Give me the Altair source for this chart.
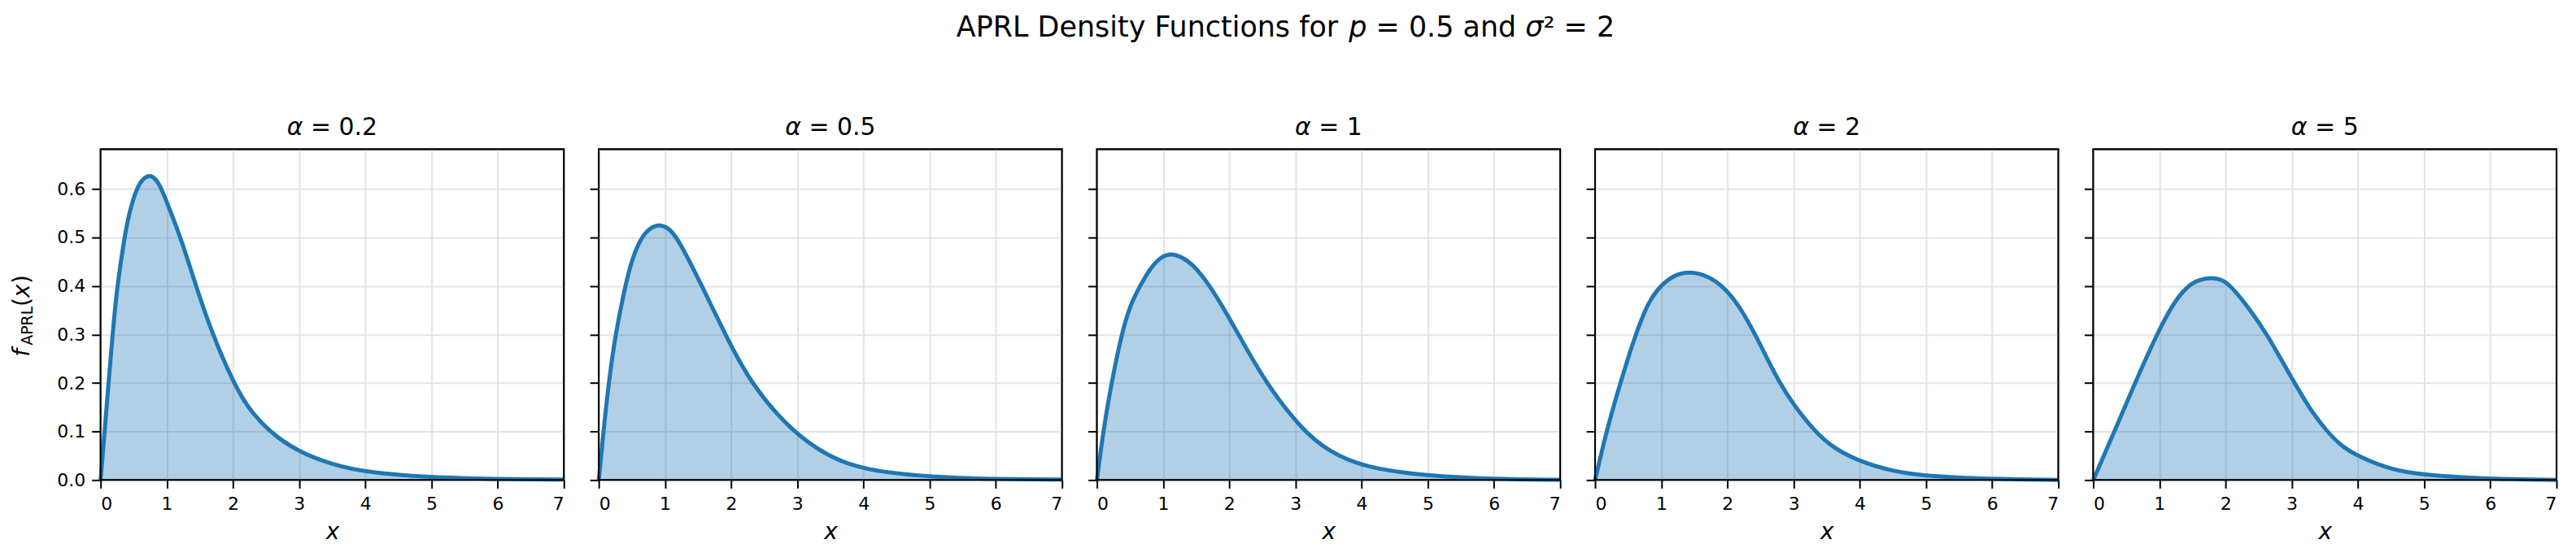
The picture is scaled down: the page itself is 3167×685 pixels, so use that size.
import altair as alt
import pandas as pd

# ---- data ----
alpha_values = ["0.2", "0.5", "1", "2", "5"]

x_a02 = [0, 0.06, 0.12, 0.18, 0.25, 0.36, 0.43, 0.54, 0.63, 0.74, 0.84, 0.92, 1.0, 1.21, 1.44, 1.69, 2.01, 2.22, 2.54, 3.0, 3.5, 4.0, 5.0, 6.0, 7.0]
y_a02 = [0, 0.10, 0.20, 0.30, 0.40, 0.50, 0.55, 0.60, 0.62, 0.630, 0.62, 0.60, 0.573, 0.50, 0.40, 0.30, 0.20, 0.15, 0.10, 0.057, 0.032, 0.016, 0.005, 0.002, 0.001]

x_a05 = [0, 0.07, 0.15, 0.25, 0.40, 0.50, 0.64, 0.78, 0.91, 1.05, 1.19, 1.56, 1.91, 2.29, 2.91, 3.5, 4.0, 5.0, 6.0, 7.0]
y_a05 = [0, 0.10, 0.20, 0.30, 0.40, 0.455, 0.50, 0.52, 0.527, 0.52, 0.50, 0.40, 0.30, 0.20, 0.10, 0.046, 0.021, 0.006, 0.002, 0.001]

x_a1 = [0, 0.10, 0.22, 0.37, 0.50, 0.65, 0.82, 0.98, 1.12, 1.28, 1.45, 1.71, 1.93, 2.14, 2.55, 3.12, 3.5, 4.0, 5.0, 6.0, 7.0]
y_a1 = [0, 0.105, 0.20, 0.30, 0.36, 0.40, 0.44, 0.461, 0.467, 0.46, 0.445, 0.40, 0.35, 0.30, 0.20, 0.10, 0.060, 0.027, 0.008, 0.002, 0.0005]

x_a2 = [0, 0.17, 0.38, 0.61, 0.80, 0.98, 1.20, 1.42, 1.70, 1.98, 2.20, 2.42, 2.60, 2.79, 3.0, 3.32, 3.6, 4.0, 4.5, 5.0, 6.0, 7.0]
y_a2 = [0, 0.10, 0.20, 0.30, 0.366, 0.40, 0.423, 0.430, 0.422, 0.394, 0.354, 0.30, 0.25, 0.20, 0.155, 0.10, 0.066, 0.038, 0.018, 0.008, 0.002, 0.0003]

x_a5 = [0, 0.32, 0.63, 0.96, 1.20, 1.42, 1.60, 1.79, 1.95, 2.08, 2.35, 2.63, 3.04, 3.27, 3.53, 3.75, 4.0, 4.5, 5.0, 6.0, 7.0]
y_a5 = [0, 0.10, 0.20, 0.30, 0.363, 0.40, 0.413, 0.418, 0.413, 0.40, 0.355, 0.30, 0.20, 0.147, 0.10, 0.07, 0.049, 0.021, 0.010, 0.002, 0.0003]

series_x = [x_a02, x_a05, x_a1, x_a2, x_a5]
series_y = [y_a02, y_a05, y_a1, y_a2, y_a5]

x_ticks = [0, 1, 2, 3, 4, 5, 6, 7]
y_ticks = [0.0, 0.1, 0.2, 0.3, 0.4, 0.5, 0.6]

# text pieces (italic pieces are the math symbols)
title_parts = ["APRL Density Functions for ", "p", " = 0.5 and ", "σ", "² = 2"]
title_italic = [False, True, False, True, False]
ylabel_parts = ["f", "APRL", "(", "x", ")"]
x_title = "x"

# ---- layout / style ----
W, H = 571, 408
SPACING = 43
YMAX = 0.682
BLUE = "#1f77b4"
FONT = "DejaVu Sans"
FIG_CENTER_FROM_P3 = 232.5  # figure centre measured from the left edge of panel 3

# DejaVu Sans advance widths (em); oblique face shares the same advances
ADV = {"A": .684, "P": .603, "R": .695, "L": .557, " ": .318, "D": .770, "e": .615,
       "n": .634, "s": .521, "i": .278, "t": .392, "y": .592, "F": .575, "u": .634,
       "c": .550, "o": .612, "f": .352, "r": .411, "p": .635, "=": .838, "0": .636,
       ".": .318, "1": .636, "2": .636, "5": .636, "a": .613, "d": .635, "σ": .635,
       "²": .401, "α": .659}


def tw(s, size):
    return sum(ADV.get(ch, .6) for ch in s) * size


def text_mark(txt, x, y, size, style="normal", angle=0, align="left", baseline="alphabetic"):
    return alt.Chart(pd.DataFrame({"t": [txt]})).mark_text(
        font=FONT, fontSize=size, fontStyle=style, angle=angle, align=align,
        baseline=baseline, color="black"
    ).encode(text="t:N", x=alt.value(x), y=alt.value(y))


def rich_line(parts, italics, cx, y, size):
    total = sum(tw(p, size) for p in parts)
    x = cx - total / 2
    marks = []
    for p, it in zip(parts, italics):
        lead = len(p) - len(p.lstrip(" "))
        marks.append(text_mark(p.strip(" "), x + lead * tw(" ", size), y, size,
                               style="italic" if it else "normal"))
        x += tw(p, size)
    return marks


def frame():
    return alt.Chart(pd.DataFrame({"t": [0]})).mark_rect(
        fill="transparent", stroke="black", strokeWidth=2
    ).encode(x=alt.value(0), x2=alt.value(W), y=alt.value(0), y2=alt.value(H))


def panel(i):
    df = pd.DataFrame({"x": series_x[i], "y": series_y[i]})
    xenc = alt.X("x:Q", scale=alt.Scale(domain=[0, 7], nice=False, zero=False),
                 axis=alt.Axis(values=x_ticks, format="d", title=x_title))
    yenc = alt.Y("y:Q", scale=alt.Scale(domain=[0, YMAX], nice=False),
                 axis=alt.Axis(values=y_ticks, format=".1f", labels=(i == 0), title=None))
    base = alt.Chart(df)
    area = base.mark_area(color=BLUE, opacity=0.35, interpolate="basis").encode(x=xenc, y=yenc)
    line = base.mark_line(color=BLUE, strokeWidth=5, interpolate="basis").encode(x="x:Q", y="y:Q")
    layers = [area, line, frame()]
    layers += rich_line(["α", " = " + alpha_values[i]], [True, False], W / 2, -17, 30)
    if i == 0:
        layers += [
            text_mark(ylabel_parts[0], -88, 256, 28, style="italic", angle=270),
            text_mark(ylabel_parts[1], -84, 242, 19, angle=270),
            text_mark(ylabel_parts[2], -88, 194, 28, angle=270),
            text_mark(ylabel_parts[3], -88, 183, 28, style="italic", angle=270),
            text_mark(ylabel_parts[4], -88, 166, 28, angle=270),
        ]
    if i == 2:
        layers += rich_line(title_parts, title_italic, FIG_CENTER_FROM_P3, -139, 35)
    return alt.layer(*layers).properties(width=W, height=H)


chart = alt.hconcat(*[panel(i) for i in range(5)], spacing=SPACING, bounds="flush").properties(
    padding={"left": 5, "top": 7, "right": 5, "bottom": 5}
).configure_view(
    stroke="black", strokeWidth=2
).configure_axis(
    labelFont=FONT, labelFontSize=22, labelColor="black",
    titleFont=FONT, titleFontSize=28, titleColor="black", titleFontWeight="normal",
    tickColor="black", tickWidth=2, domain=False,
    grid=True, gridColor="#e3e3e3", gridWidth=2,
).configure_axisX(
    tickSize=10, labelPadding=9, titlePadding=10, titleFontStyle="italic",
).configure_axisY(
    tickSize=11, labelPadding=8,
)

chart.save("out.html", embed_options={"renderer": "svg", "actions": False})
